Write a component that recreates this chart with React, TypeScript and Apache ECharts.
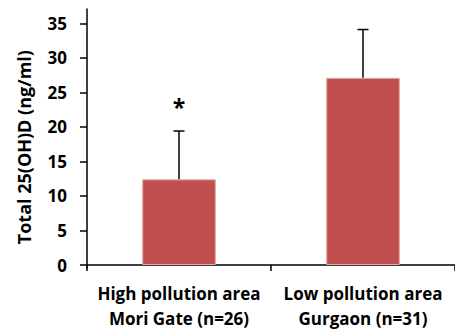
import React, { useEffect, useRef } from "react";
import * as echarts from "echarts";

const categories = ["High pollution area\nMori Gate (n=26)", "Low pollution area\nGurgaon (n=31)"];
const means = [12.4, 27.1];
const sds = [7.0, 7.0];
const marks = ["*", ""];
const yTicks = { min: 0, max: 35, interval: 5 };
const yTitle = "Total 25(OH)D (ng/ml)";

const FONT = "'Open Sans', 'Noto Sans', sans-serif";

export default function App() {
  const ref = useRef<HTMLDivElement>(null);
  useEffect(() => {
    if (!ref.current) return;
    const chart = echarts.init(ref.current, null, { renderer: "svg" });
    const errData = means.map((m, i) => [i, m, sds[i], marks[i]]);
    chart.setOption({
      animation: false,
      backgroundColor: "#fff",
      grid: [
        { left: 87, width: 380, top: 23.3, bottom: 63.3 },
        { left: 87, width: 380, top: 9, bottom: 63.3 },
      ],
      xAxis: [
        {
          type: "category",
          gridIndex: 0,
          data: categories,
          axisLine: { lineStyle: { color: "#000", width: 1.5 } },
          axisTick: { show: true, length: 6, lineStyle: { color: "#000", width: 1.5 } },
          axisLabel: {
            color: "#000",
            fontFamily: FONT,
            fontWeight: "bold",
            fontSize: 17,
            lineHeight: 25,
            margin: 16,
            interval: 0,
            hideOverlap: false,
          },
        },
        { type: "category", gridIndex: 1, data: categories, show: false },
      ],
      yAxis: [
        {
          type: "value",
          gridIndex: 0,
          min: yTicks.min,
          max: yTicks.max,
          interval: yTicks.interval,
          name: yTitle,
          nameLocation: "middle",
          nameRotate: 90,
          nameGap: 54,
          nameTextStyle: {
            color: "#000",
            fontFamily: FONT,
            fontWeight: "bold",
            fontSize: 18,
            padding: [0, 6, 0, 0],
          },
          axisLine: { show: false },
          axisTick: { show: true, length: 7, lineStyle: { color: "#000", width: 1.5 } },
          splitLine: { show: false },
          axisLabel: {
            color: "#000",
            fontFamily: FONT,
            fontWeight: "bold",
            fontSize: 17,
            margin: 20,
          },
        },
        {
          type: "value",
          gridIndex: 1,
          min: 0,
          max: 37,
          axisLine: { show: true, lineStyle: { color: "#000", width: 1.5 } },
          axisTick: { show: false },
          axisLabel: { show: false },
          splitLine: { show: false },
        },
      ],
      series: [
        {
          type: "bar",
          xAxisIndex: 0,
          yAxisIndex: 0,
          data: means,
          barWidth: "40%",
          itemStyle: { color: "#C0504D", borderColor: "#E0A8A6", borderWidth: 1 },
          z: 2,
        },
        {
          type: "custom",
          xAxisIndex: 0,
          yAxisIndex: 0,
          data: errData,
          z: 3,
          renderItem: (params: any, api: any) => {
            const i = api.value(0);
            const m = api.value(1);
            const sd = api.value(2);
            const mark = errData[params.dataIndex][3] as string;
            const base = api.coord([i, m]);
            const top = api.coord([i, m + sd]);
            const cap = 5.5;
            const children: any[] = [
              {
                type: "line",
                shape: { x1: base[0], y1: base[1], x2: top[0], y2: top[1] },
                style: { stroke: "#000", lineWidth: 1.5 },
              },
              {
                type: "line",
                shape: { x1: top[0] - cap, y1: top[1], x2: top[0] + cap, y2: top[1] },
                style: { stroke: "#000", lineWidth: 1.5 },
              },
            ];
            if (mark) {
              children.push({
                type: "text",
                style: {
                  text: mark,
                  x: top[0],
                  y: top[1] - 24,
                  align: "center",
                  verticalAlign: "middle",
                  fill: "#000",
                  fontFamily: FONT,
                  fontWeight: "bold",
                  fontSize: 23,
                },
              });
            }
            return { type: "group", children };
          },
        },
      ],
    });
    return () => chart.dispose();
  }, []);
  return (
    <div
      ref={ref}
      style={{ position: "absolute", left: 0, top: 0, width: 455, height: 331 }}
    />
  );
}
